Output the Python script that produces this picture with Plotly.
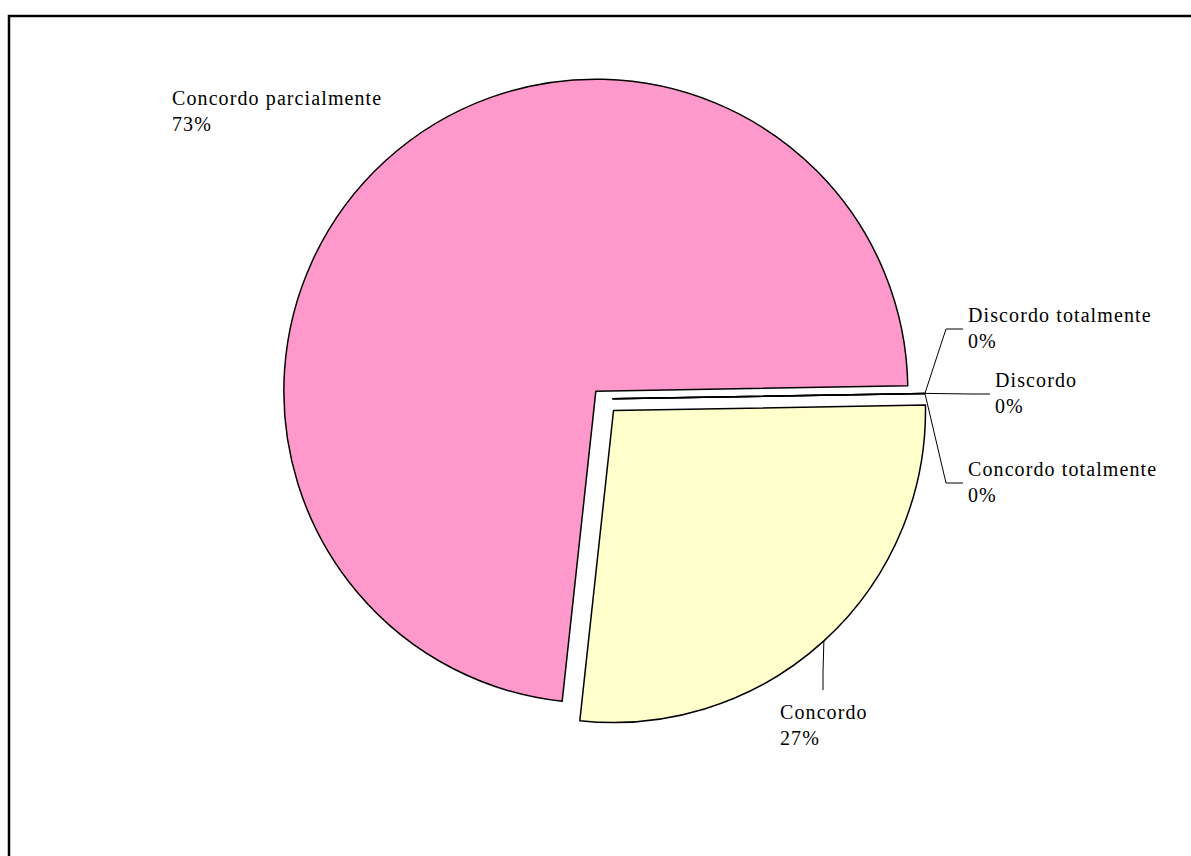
import math
import plotly.graph_objects as go

# Survey answers (share of respondents, %)
labels = ["Concordo totalmente", "Concordo", "Concordo parcialmente", "Discordo", "Discordo totalmente"]
values = [0, 27, 73, 0, 0]
colors = ["#FFFFFF", "#FFFFCC", "#FF99CC", "#FFFFFF", "#FFFFFF"]
pulls = [0.032, 0.05, 0.034, 0.032, 0.032]

W, H = 1191, 856
ROTATION = 89.0
CX, CY = 603.0, 399.0          # pie centre in pixels
SIDE = 655.2                   # square box that holds the pie
R = SIDE / (2 * (1 + max(pulls)))

FONT = dict(family="Liberation Serif, Times New Roman, serif", size=20, color="#000000")


def px(x):
    return x / W


def py(y):
    return 1 - y / H


def slice_edge_point(i):
    """Point on the outer arc at the bisector of slice i (pixel coords)."""
    total = sum(values)
    before = sum(values[:i])
    ang = math.radians(ROTATION + 360 * (before + values[i] / 2) / total)
    dist = R * (1 + pulls[i])
    return CX + dist * math.sin(ang), CY - dist * math.cos(ang)


fig = go.Figure(
    go.Pie(
        labels=labels,
        values=values,
        sort=False,
        direction="clockwise",
        rotation=ROTATION,
        pull=pulls,
        marker=dict(colors=colors, line=dict(color="#000000", width=1.5)),
        textinfo="none",
        hoverinfo="label+percent",
        showlegend=False,
        domain=dict(x=[px(CX - SIDE / 2), px(CX + SIDE / 2)],
                    y=[py(CY + SIDE / 2), py(CY - SIDE / 2)]),
    )
)

# label placement: (left x, vertical middle y) in pixels, plus leader style
label_pos = {
    "Concordo parcialmente": (170, 111, None),
    "Discordo totalmente": (966, 328, "side"),
    "Discordo": (993, 393, "side"),
    "Concordo totalmente": (966, 482, "side"),
    "Concordo": (778, 725, "below"),
}

annotations = []
shapes = []
total = sum(values)
for i, lab in enumerate(labels):
    lx, ly, leader = label_pos[lab]
    pct = round(100 * values[i] / total)
    annotations.append(dict(
        x=px(lx), y=py(ly), xref="paper", yref="paper",
        xanchor="left", yanchor="middle", align="left",
        text=f"{lab}<br>{pct}%", showarrow=False, font=FONT,
    ))
    if leader is None:
        continue
    sx, sy = slice_edge_point(i)
    if leader == "side":
        ex, ey = lx - 3, ly + 1
        kx = ex - 17
        path = f"M {px(sx)},{py(sy)} L {px(kx)},{py(ey)} L {px(ex)},{py(ey)}"
    else:
        ex, ey = lx + 45, ly - 35
        path = f"M {px(sx)},{py(sy)} L {px(ex)},{py(ey - 18)} L {px(ex)},{py(ey)}"
    shapes.append(dict(type="path", path=path, xref="paper", yref="paper",
                       line=dict(color="#000000", width=1)))

# chart area frame
shapes.append(dict(type="rect", xref="paper", yref="paper",
                   x0=px(9), y0=py(H + 20), x1=px(W + 20), y1=py(16),
                   line=dict(color="#000000", width=2.5), fillcolor="rgba(0,0,0,0)"))

fig.update_layout(
    width=W, height=H,
    margin=dict(l=0, r=0, t=0, b=0),
    paper_bgcolor="#FFFFFF",
    plot_bgcolor="#FFFFFF",
    annotations=annotations,
    shapes=shapes,
)

# slightly wider tracking for the label text
spacing_js = (
    "document.querySelectorAll('.annotation-text').forEach("
    "function(t){ t.style.letterSpacing = '1.1px'; });"
)

fig.write_html("out.html", post_script=spacing_js)
